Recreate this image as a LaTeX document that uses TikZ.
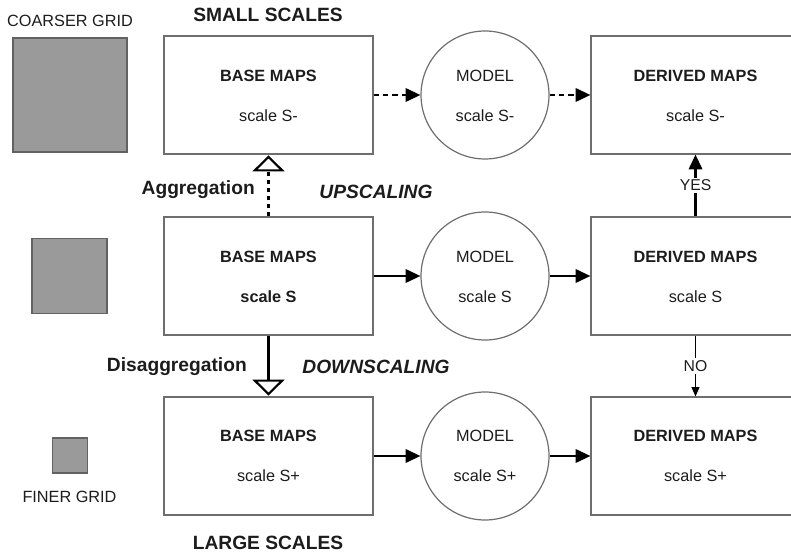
\documentclass[tikz,border=0pt]{standalone}
\usepackage{fontspec}
\setmainfont{Liberation Sans}
\usetikzlibrary{arrows.meta}
\definecolor{edgegray}{HTML}{6E6E6E}
\definecolor{sqfill}{HTML}{9A9A9A}
\definecolor{sqline}{HTML}{626262}
\definecolor{ink}{HTML}{1C1C1C}
\begin{document}
\begin{tikzpicture}[x=0.75pt,y=-0.75pt,
  mapbox/.style={draw=edgegray, line width=0.9pt, minimum width=156.75pt, minimum height=88.5pt, inner sep=0pt},
  modelc/.style={circle, draw=edgegray, line width=0.9pt, minimum size=96pt, inner sep=0pt},
  gridsq/.style={draw=sqline, fill=sqfill, line width=1.1pt, inner sep=0pt},
  btxt/.style={font=\bfseries\fontsize{12.2}{14}\selectfont, text=ink, inner sep=0pt},
  ntxt/.style={font=\fontsize{12.2}{14}\selectfont, text=ink, inner sep=0pt},
  bigtxt/.style={font=\bfseries\fontsize{14.4}{17}\selectfont, text=ink, inner sep=0pt},
  bigit/.style={font=\bfseries\itshape\fontsize{14.4}{17}\selectfont, text=ink, inner sep=0pt},
  yn/.style={font=\fontsize{11.8}{13}\selectfont, text=ink, fill=white, inner sep=1.5pt},
  flow/.style={-{Triangle[length=11pt,width=10pt]}, line width=1.6pt},
  dflow/.style={flow, dash pattern=on 4pt off 3pt},
  openarr/.style={-{Triangle[open,length=12pt,width=24pt,line width=1.6pt]}, line width=1.6pt, shorten >=0.6pt},
]
\useasboundingbox (0,0) rectangle (791,555);
\clip (0,0) rectangle (791,555);

% grid squares
\node[gridsq, minimum size=85.5pt] (sqc) at (70,95) {};
\node[gridsq, minimum size=56pt] (sqm) at (69.5,276) {};
\node[gridsq, minimum size=26.5pt] (sqf) at (70,455.5) {};
\node[ntxt] (tcg) at (70,21) {COARSER GRID};
\node[ntxt] (tfg) at (69.5,497) {FINER GRID};

% titles
\node[bigtxt] (tss) at (268,15) {SMALL SCALES};
\node[bigtxt] (tls) at (268,543) {LARGE SCALES};

% row 1
\node[mapbox] (b1) at (268.5,95) {};
\node[modelc] (m1) at (485,95) {};
\node[mapbox] (d1) at (695.5,95) {};
% row 2
\node[mapbox] (b2) at (268.5,276) {};
\node[modelc] (m2) at (485,276) {};
\node[mapbox] (d2) at (695.5,276) {};
% row 3
\node[mapbox] (b3) at (268.5,456) {};
\node[modelc] (m3) at (485,456) {};
\node[mapbox] (d3) at (695.5,456) {};

% texts
\node[btxt] (b1a) at (268.5,76) {BASE MAPS};
\node[ntxt] (b1b) at (268.5,116) {scale S-};
\node[ntxt] (m1a) at (485,76) {MODEL};
\node[ntxt] (m1b) at (485,116) {scale S-};
\node[btxt] (d1a) at (695.5,76) {DERIVED MAPS};
\node[ntxt] (d1b) at (695.5,116) {scale S-};

\node[btxt] (b2a) at (268.5,257) {BASE MAPS};
\node[btxt] (b2b) at (268.5,297) {scale S};
\node[ntxt] (m2a) at (485,257) {MODEL};
\node[ntxt] (m2b) at (485,297) {scale S};
\node[btxt] (d2a) at (695.5,257) {DERIVED MAPS};
\node[ntxt] (d2b) at (695.5,297) {scale S};

\node[btxt] (b3a) at (268.5,436) {BASE MAPS};
\node[ntxt] (b3b) at (268.5,476) {scale S+};
\node[ntxt] (m3a) at (485,436) {MODEL};
\node[ntxt] (m3b) at (485,476) {scale S+};
\node[btxt] (d3a) at (695.5,436) {DERIVED MAPS};
\node[ntxt] (d3b) at (695.5,476) {scale S+};

% side labels
\node[bigtxt, anchor=east] (tagg) at (255,190) {Aggregation};
\node[bigit] (tup) at (376,192) {UPSCALING};
\node[bigtxt, anchor=east] (tdis) at (247,367) {Disaggregation};
\node[bigit] (tdown) at (376,367) {DOWNSCALING};

% horizontal arrows
\draw[dflow] (b1.east) -- (m1.west);
\draw[dflow] (m1.east) -- (d1.west);
\draw[flow] (b2.east) -- (m2.west);
\draw[flow] (m2.east) -- (d2.west);
\draw[flow] (b3.east) -- (m3.west);
\draw[flow] (m3.east) -- (d3.west);

% aggregation / disaggregation
\draw[openarr, dash pattern=on 3.5pt off 2.5pt] (b2.north) -- (b1.south);
\draw[openarr] (b2.south) -- (b3.north);

% yes / no
\draw[-{Triangle[length=11pt,width=10pt]}, line width=1.6pt] (d2.north) -- node[yn] (lyes) {YES} (d1.south);
\draw[-{Triangle[length=7pt,width=6pt]}, line width=0.8pt] (d2.south) -- node[yn] (lno) {NO} (d3.north);
\end{tikzpicture}
\end{document}
